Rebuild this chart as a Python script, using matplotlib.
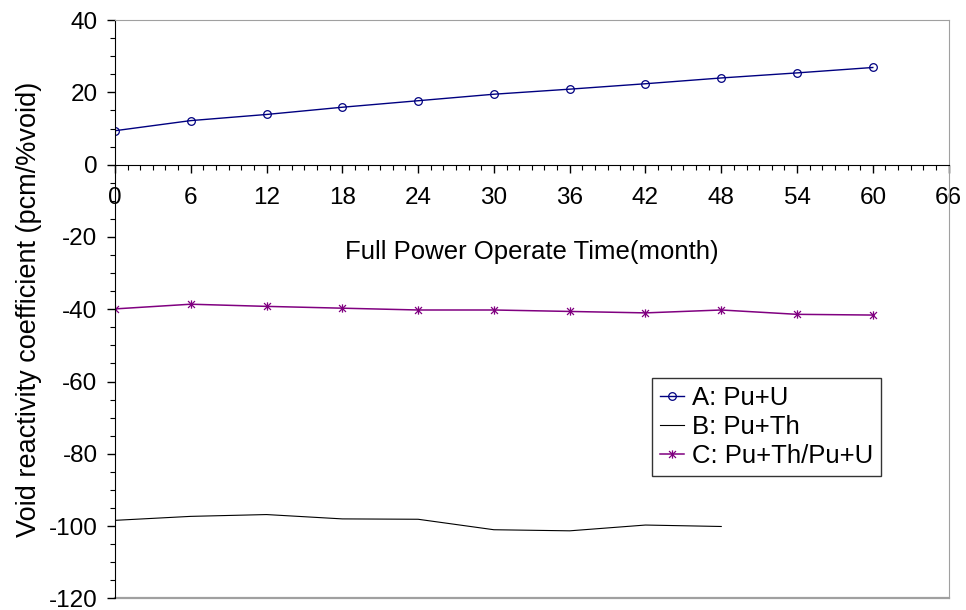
import numpy as np
import matplotlib.pyplot as plt
import matplotlib.ticker as mticker
from matplotlib.path import Path

# ---- data ----
months_a = [0, 6, 12, 18, 24, 30, 36, 42, 48, 54, 60]
void_a = [9.4, 12.2, 13.9, 15.9, 17.7, 19.5, 20.9, 22.4, 24.0, 25.4, 26.9]

months_b = [0, 6, 12, 18, 24, 30, 36, 42, 48]
void_b = [-98.4, -97.3, -96.8, -98.0, -98.1, -101.0, -101.3, -99.7, -100.1]

months_c = [0, 6, 12, 18, 24, 30, 36, 42, 48, 54, 60]
void_c = [-39.9, -38.6, -39.2, -39.7, -40.2, -40.2, -40.6, -41.0, -40.2, -41.4, -41.6]

labels = ["A: Pu+U", "B: Pu+Th", "C: Pu+Th/Pu+U"]

plt.rcParams["font.family"] = ["Liberation Sans", "DejaVu Sans"]
plt.rcParams["axes.unicode_minus"] = False

FS = 18.5
TICK_FS = 17.5

# Excel style asterisk marker: x plus a vertical bar
ast_verts = [(-1, -1), (1, 1), (-1, 1), (1, -1), (0, -1.2), (0, 1.2)]
ast_codes = [Path.MOVETO, Path.LINETO] * 3
asterisk = Path(ast_verts, ast_codes)

fig = plt.figure(figsize=(9.66, 6.10), dpi=100)
ax = fig.add_axes([0.119, 0.019, 0.863, 0.948])

ax.plot(months_a, void_a, color="#000080", linewidth=1.0,
        marker="o", markersize=5.5, markerfacecolor="none",
        markeredgecolor="#000080", markeredgewidth=0.9, label=labels[0])
ax.plot(months_b, void_b, color="#000000", linewidth=0.8, label=labels[1])
ax.plot(months_c, void_c, color="#800080", linewidth=1.1,
        marker=asterisk, markersize=6, markeredgecolor="#800080",
        markeredgewidth=0.9, label=labels[2])

ax.set_xlim(0, 66)
ax.set_ylim(-120, 40)

# spines: x axis crosses at 0, plot area border in gray
ax.spines["bottom"].set_position(("data", 0))
ax.spines["bottom"].set_color("black")
ax.spines["left"].set_color("black")
ax.spines["top"].set_color("#a0a0a0")
ax.spines["right"].set_color("#a0a0a0")
ax.axhline(-120, color="#a0a0a0", linewidth=1.6, clip_on=False, zorder=0.5)

ax.xaxis.set_major_locator(mticker.MultipleLocator(6))
ax.xaxis.set_minor_locator(mticker.MultipleLocator(1))
ax.yaxis.set_major_locator(mticker.MultipleLocator(20))
ax.yaxis.set_minor_locator(mticker.MultipleLocator(5))

ax.tick_params(axis="both", which="major", direction="out", length=6,
               width=1, labelsize=TICK_FS, color="black")
ax.tick_params(axis="both", which="minor", direction="out", length=3.6,
               width=0.8, color="black")
ax.tick_params(axis="x", which="major", pad=10)
ax.tick_params(axis="y", which="major", pad=6.5)

ax.set_xlabel("Full Power Operate Time(month)", fontsize=FS)
ax.xaxis.set_label_coords(0.5, 0.62)
ax.set_ylabel("Void reactivity coefficient (pcm/%void)", fontsize=19.5)
ax.yaxis.set_label_coords(-0.088, 0.5)

leg = ax.legend(loc="upper left", bbox_to_anchor=(0.644, 0.381),
                fontsize=FS, frameon=True, fancybox=False,
                edgecolor="black", handlelength=0.95, handletextpad=0.3,
                borderpad=0.3, labelspacing=0.2, borderaxespad=0)
leg.get_frame().set_linewidth(1.0)

fig.savefig("out.png", dpi=100, facecolor="white")
